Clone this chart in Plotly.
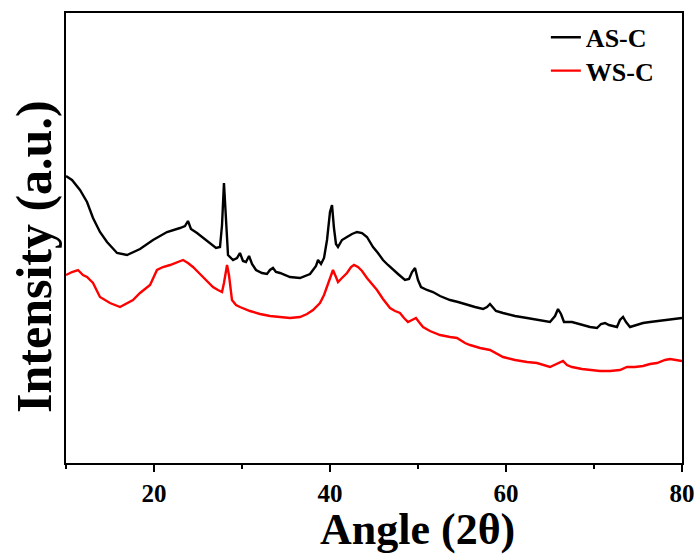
import plotly.graph_objects as go

# AS-C (black) pattern: 2theta (deg) and intensity (a.u.)
as_c_angle = [10.00, 10.68, 11.59, 12.39, 13.07, 13.86, 14.66, 15.80, 16.93, 18.41, 19.89, 21.48, 22.95, 23.52,
              23.86, 24.20, 24.89, 25.57, 26.36, 27.05, 27.50, 27.73, 27.95, 28.18, 28.41, 28.98, 29.43, 29.77,
              30.11, 30.45, 30.80, 31.14, 31.59, 32.27, 32.84, 33.18, 33.52, 33.86, 34.32, 35.45, 36.59, 37.73,
              38.41, 38.64, 38.98, 39.32, 39.66, 40.00, 40.23, 40.45, 40.68, 40.91, 41.36, 41.93, 42.50, 43.07,
              43.64, 44.20, 44.89, 45.45, 46.02, 46.59, 47.16, 47.73, 48.52, 48.98, 49.32, 49.66, 50.00, 50.34,
              51.02, 51.70, 52.50, 53.64, 54.55, 55.57, 56.48, 57.39, 57.84, 58.18, 58.52, 58.86, 59.66, 61.02,
              62.39, 63.52, 65.00, 65.57, 65.91, 66.25, 66.59, 67.50, 68.75, 69.55, 70.34, 70.80, 71.25, 71.70,
              72.61, 72.95, 73.30, 73.64, 74.09, 74.89, 75.57, 76.36, 77.16, 78.41, 80.00]
as_c_int = [287, 283, 273, 261, 245, 231, 221, 210, 208, 214, 223, 231, 235, 237,
            242, 234, 230, 225, 220, 215, 216, 238, 280, 243, 208, 203, 205, 210,
            202, 201, 207, 199, 193, 190, 189, 193, 195, 191, 190, 186, 185, 189,
            197, 203, 199, 205, 223, 251, 258, 235, 219, 216, 223, 226, 229, 231,
            230, 226, 216, 210, 203, 198, 193, 189, 183, 184, 191, 195, 183, 176,
            173, 171, 167, 163, 161, 158, 156, 154, 156, 159, 156, 152, 150, 147,
            145, 143, 141, 147, 154, 149, 141, 141, 138, 136, 135, 139, 140, 138,
            136, 143, 146, 141, 136, 138, 140, 141, 142, 143, 145]

# WS-C (red) pattern
ws_c_angle = [10.00, 10.68, 11.36, 11.93, 12.39, 13.07, 13.86, 14.55, 15.00, 16.14, 16.93, 17.61, 18.41, 19.55,
              20.34, 21.02, 21.82, 22.61, 23.30, 23.86, 24.43, 25.00, 25.57, 26.14, 26.70, 27.27, 27.73, 27.95,
              28.30, 28.52, 28.86, 29.32, 29.77, 30.91, 32.05, 33.18, 34.32, 35.45, 36.59, 37.39, 38.07, 38.86,
              39.32, 39.66, 40.00, 40.34, 40.68, 40.91, 41.36, 41.93, 42.39, 42.73, 43.18, 43.64, 44.20, 44.77,
              45.34, 46.02, 46.82, 47.39, 47.95, 48.41, 48.86, 49.32, 49.77, 50.11, 50.57, 51.36, 52.50, 53.64,
              54.43, 55.34, 55.91, 57.05, 58.18, 59.66, 61.02, 62.39, 63.52, 65.00, 65.68, 66.14, 66.48, 66.93,
              67.50, 68.64, 69.55, 70.68, 71.82, 72.95, 73.75, 74.66, 75.57, 76.36, 77.16, 78.07, 78.64, 79.20,
              80.00]
ws_c_int = [188, 191, 193, 188, 186, 180, 166, 162, 160, 156, 160, 163, 170, 178,
            193, 196, 198, 201, 203, 200, 196, 191, 186, 181, 176, 173, 171, 180,
            198, 188, 163, 158, 156, 152, 149, 147, 146, 145, 146, 149, 153, 160,
            168, 176, 185, 193, 186, 181, 185, 190, 196, 198, 196, 192, 185, 179,
            173, 164, 155, 152, 150, 145, 141, 143, 145, 141, 136, 132, 128, 126,
            125, 120, 118, 115, 113, 106, 103, 101, 100, 96, 99, 101, 102, 98,
            96, 94, 93, 92, 92, 93, 96, 96, 97, 99, 100, 103, 104, 103,
            102]

x_ticks = [20, 40, 60, 80]
x_title = "Angle (2θ)"
y_title = "Intensity (a.u.)"
FONT = "Liberation Serif, Times New Roman, serif"

fig = go.Figure()
fig.add_trace(go.Scatter(x=as_c_angle, y=as_c_int, mode="lines", name="<b>AS-C</b>",
                         line=dict(color="black", width=2.4), legend="legend"))
fig.add_trace(go.Scatter(x=ws_c_angle, y=ws_c_int, mode="lines", name="<b>WS-C</b>",
                         line=dict(color="red", width=2.4), legend="legend2"))

leg_font = dict(family=FONT, size=26, color="black")
fig.update_layout(
    width=700, height=555,
    margin=dict(l=66, r=18, t=13, b=92),
    paper_bgcolor="white", plot_bgcolor="white",
    font=dict(family=FONT, color="black"),
    showlegend=True,
    legend=dict(x=0.779, y=0.998, xanchor="left", yanchor="top", font=leg_font,
                bgcolor="rgba(0,0,0,0)"),
    legend2=dict(x=0.779, y=0.924, xanchor="left", yanchor="top", font=leg_font,
                 bgcolor="rgba(0,0,0,0)"),
    xaxis=dict(range=[10, 80], tickvals=x_ticks, ticktext=[f"<b>{v}</b>" for v in x_ticks],
               ticks="outside", ticklen=7, tickwidth=2, tickcolor="black",
               minor=dict(dtick=10, tick0=0, ticks="outside", ticklen=4, tickwidth=2, tickcolor="black"),
               showline=True, linewidth=2, linecolor="black", mirror=True,
               showgrid=False, zeroline=False, automargin=False,
               tickfont=dict(family=FONT, size=25, color="black")),
    yaxis=dict(range=[0, 450], showticklabels=False, ticks="",
               showline=True, linewidth=2, linecolor="black", mirror=True,
               showgrid=False, zeroline=False, automargin=False),
    annotations=[
        dict(text=f"<b>{x_title}</b>", xref="paper", yref="paper", x=0.571, y=-0.147,
             xanchor="center", yanchor="middle", showarrow=False,
             font=dict(family=FONT, size=44, color="black")),
        dict(text=f"<b>{y_title}</b>", xref="paper", yref="paper", x=-0.052, y=0.46,
             xanchor="center", yanchor="middle", showarrow=False, textangle=-90,
             font=dict(family=FONT, size=50, color="black")),
    ],
)

fig.write_html("out.html", config={"displayModeBar": False},
               post_script="document.body.style.margin='0';")
